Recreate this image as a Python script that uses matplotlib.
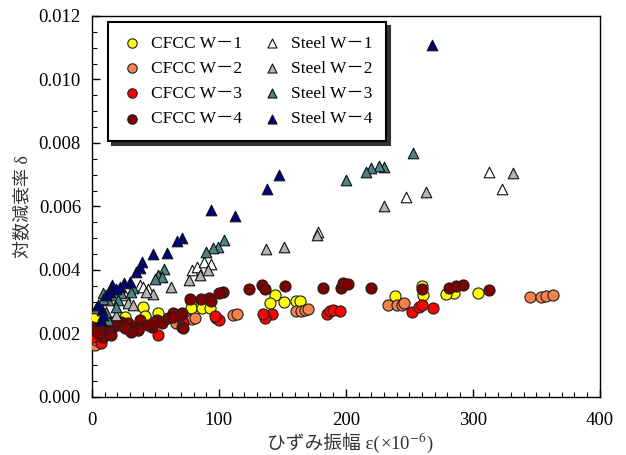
import matplotlib
matplotlib.use("Agg")
import matplotlib.pyplot as plt
from matplotlib.ticker import MultipleLocator, FormatStrFormatter
from matplotlib.offsetbox import TextArea, HPacker, AnchoredOffsetbox

plt.rcParams['font.family'] = ['Liberation Serif', 'Noto Sans CJK JP']
plt.rcParams['mathtext.fontset'] = 'stix'

# ---- data ----
cfcc1_x = [304, 285, 279, 261, 260, 239, 144, 140, 151, 161, 164, 77.7, 77.7, 86.4, 93, 40, 52, 41.5, 2, 25.7]
cfcc1_y = [0.00328, 0.00327, 0.00324, 0.00321, 0.0035, 0.00319, 0.00322, 0.00295, 0.00298, 0.00302,
           0.00302, 0.00303, 0.00279, 0.00279, 0.00279, 0.00284, 0.00264, 0.00255, 0.00253, 0.00251]

cfcc2_x = [345, 354, 358, 363, 233, 240, 244, 246, 161, 165, 168, 170, 111, 114, 78.5, 81, 2, 3.4, 66]
cfcc2_y = [0.00316, 0.00316, 0.00318, 0.0032, 0.0029, 0.0029, 0.0029, 0.00295, 0.00271, 0.00272,
           0.00274, 0.00278, 0.00258, 0.0026, 0.00246, 0.00248, 0.00164, 0.0018, 0.00232]

cfcc3_x = [252, 258, 260, 269, 185, 187.5, 190, 195, 141.5, 136, 135, 98, 100, 97, 72, 70.6, 52, 7.3, 0, 4]
cfcc3_y = [0.00267, 0.00283, 0.0029, 0.00279, 0.00261, 0.00271, 0.00274, 0.00272, 0.00261, 0.00248,
           0.00261, 0.00248, 0.00243, 0.00255, 0.00234, 0.0022, 0.00195, 0.00169, 0.0019, 0.0021]

cfcc4_x = [260, 281, 287, 292, 313, 152, 182, 196, 198, 202, 220, 124, 134, 136,
           103, 100, 92, 86, 94, 77, 64, 70.6, 72, 69, 51, 38, 36.5, 47,
           0, 2, 7, 9, 12.6, 15, 20.5, 23, 28, 34, 36, 44, 49, 55, 60, 64,
           15, 5, 31, 26, 16.5]
cfcc4_y = [0.0034, 0.00344, 0.00351, 0.00353, 0.00337, 0.0035, 0.00344, 0.00344, 0.00358, 0.00355,
           0.00342, 0.00339, 0.00352, 0.00339, 0.0033, 0.00327, 0.00311, 0.00307, 0.00302, 0.00308,
           0.00264, 0.00264, 0.00216, 0.00258, 0.00243, 0.00243, 0.00211, 0.00221,
           0.00221, 0.00211, 0.00221, 0.0019, 0.00237, 0.00211, 0.00227, 0.00237, 0.00232, 0.00221,
           0.00211, 0.00227, 0.00237, 0.00232, 0.00248, 0.00251,
           0.00195, 0.002, 0.00206, 0.00216, 0.00237]

steel1_x = [313, 247, 323, 178, 79, 82.5, 88, 94, 37.5, 44, 25.7, 40]
steel1_y = [0.0071, 0.00631, 0.00654, 0.0052, 0.004, 0.0041, 0.00426, 0.0042, 0.00353, 0.00339, 0.00321, 0.00345]

steel2_x = [230, 263, 332, 137, 151, 177, 85, 91, 76.5, 62, 48, 42.5, 28.3, 19, 32.5]
steel2_y = [0.0060, 0.00647, 0.00705, 0.00465, 0.00473, 0.0051, 0.00384, 0.004, 0.00368, 0.00347,
            0.00325, 0.00332, 0.00297, 0.00258, 0.0029]

steel3_x = [253, 230, 226, 220, 216, 200, 104, 99.5, 95, 90, 57, 52, 55, 49.5, 32.5, 31, 23, 18,
            12.6, 8.7, 8.7, 20.5, 12.6, 11.3, 19, 3.4]
steel3_y = [0.00768, 0.00725, 0.00728, 0.0072, 0.00709, 0.00683, 0.00494, 0.00473, 0.0047, 0.00456,
            0.00402, 0.00384, 0.00379, 0.0037, 0.00342, 0.00332, 0.00327, 0.00321,
            0.00306, 0.00327, 0.0031, 0.00306, 0.00243, 0.00269, 0.00284, 0.00279]

steel4_x = [268, 147, 138, 113, 94, 70.5, 67, 59, 48, 39, 38, 35, 30, 25, 22, 16, 14, 5, 8, 7, 9, 11, 19]
steel4_y = [0.0111, 0.0070, 0.00655, 0.0057, 0.00588, 0.00502, 0.0049, 0.00454, 0.0045, 0.00424,
            0.00405, 0.00395, 0.00363, 0.00358, 0.00347, 0.00353, 0.00332, 0.0029, 0.00274, 0.00243,
            0.00258, 0.0032, 0.0034]

labels_cfcc = ['CFCC W－1', 'CFCC W－2', 'CFCC W－3', 'CFCC W－4']
labels_steel = ['Steel W－1', 'Steel W－2', 'Steel W－3', 'Steel W－4']

# ---- plot ----
fig = plt.figure(figsize=(6.26, 4.55), dpi=100)
ax = fig.add_axes([0.147, 0.1275, 0.811, 0.8375])

cfcc_series = [(cfcc1_x, cfcc1_y, '#FFFF00'), (cfcc2_x, cfcc2_y, '#F5824A'),
               (cfcc3_x, cfcc3_y, '#FF0000'), (cfcc4_x, cfcc4_y, '#800000')]
steel_series = [(steel1_x, steel1_y, '#FFFFFF'), (steel2_x, steel2_y, '#B4B4B4'),
                (steel3_x, steel3_y, '#4A8484'), (steel4_x, steel4_y, '#000080')]

handles = []
for (xs, ys, c), lab in zip(cfcc_series, labels_cfcc):
    h = ax.scatter(xs, ys, s=64, marker='o', facecolor=c, edgecolor='#202020', linewidth=0.8,
                   label=lab, zorder=3)
    handles.append(h)
for (xs, ys, c), lab in zip(steel_series, labels_steel):
    h = ax.scatter(xs, ys, s=58, marker='^', facecolor=c, edgecolor='#101010', linewidth=0.8,
                   label=lab, zorder=4)
    handles.append(h)

ax.set_xlim(0, 400)
ax.set_ylim(0, 0.012)
ax.xaxis.set_major_locator(MultipleLocator(100))
ax.xaxis.set_minor_locator(MultipleLocator(10))
ax.yaxis.set_major_locator(MultipleLocator(0.002))
ax.yaxis.set_minor_locator(MultipleLocator(0.0005))
ax.yaxis.set_major_formatter(FormatStrFormatter('%.3f'))
ax.tick_params(which='both', direction='in', top=False, right=False, labelsize=13.5, colors='black')
ax.tick_params(which='major', length=6, width=1)
ax.tick_params(which='minor', length=3.5, width=0.8)
ax.tick_params(axis='x', which='major', pad=11)
ax.tick_params(axis='y', which='major', pad=8)
for sp in ax.spines.values():
    sp.set_linewidth(1.0)
    sp.set_color('black')

# x label built from pieces so the Japanese text can use the CJK fallback
lab_col = '#333333'
part1 = TextArea('ひずみ振幅 ε(', textprops=dict(fontsize=13.5, color=lab_col,
                                             family=['Liberation Serif', 'Noto Sans CJK JP']))
part2 = TextArea('×10$^{-6}$)', textprops=dict(fontsize=13.5, color=lab_col))
xl_box = HPacker(children=[part1, part2], align='baseline', pad=0, sep=0)
anch = AnchoredOffsetbox(loc='upper center', child=xl_box, frameon=False,
                         bbox_to_anchor=(0.508, -0.088), bbox_transform=ax.transAxes,
                         borderpad=0, pad=0)
ax.add_artist(anch)

ax.set_ylabel('対数減衰率 δ', fontsize=13, color=lab_col, labelpad=5)

leg = ax.legend(handles=handles, ncol=2, loc='upper left', bbox_to_anchor=(0.031, 0.985),
                borderaxespad=0,
                fontsize=12.5, frameon=True, fancybox=False, edgecolor='black',
                shadow={'color': '#333333', 'alpha': 1.0, 'ox': 3, 'oy': -3},
                handletextpad=0.5, columnspacing=1.1, labelspacing=0.52, borderpad=0.8,
                handlelength=1.2, markerscale=0.85)
leg.get_frame().set_linewidth(1.5)
leg.set_zorder(10)

fig.savefig('out.png', dpi=100)
